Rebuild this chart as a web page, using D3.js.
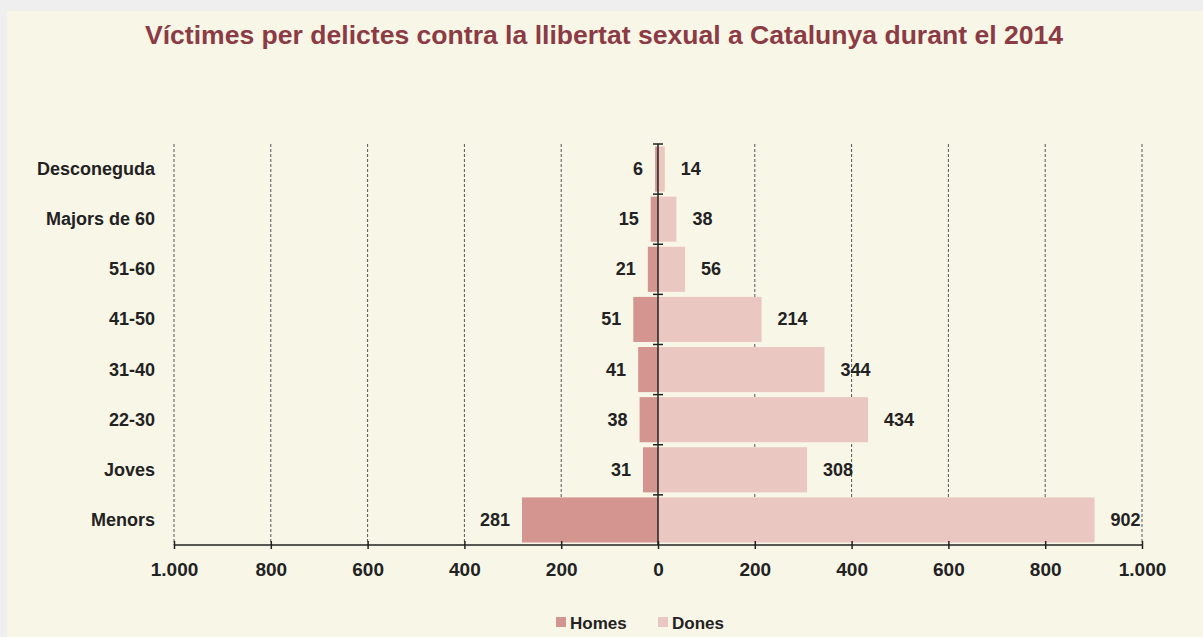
<!DOCTYPE html>
<html>
<head>
<meta charset="utf-8">
<script src="https://cdn.jsdelivr.net/npm/d3@7"></script>
<style>
  body { margin: 0; background: #efefef; }
  text { font-family: "Liberation Sans", Arial, sans-serif; font-weight: bold; }
</style>
</head>
<body>
<script>
// age groups, top to bottom
var categories = ["Desconeguda", "Majors de 60", "51-60", "41-50", "31-40", "22-30", "Joves", "Menors"];
var homes = [6, 15, 21, 51, 41, 38, 31, 281];
var dones = [14, 38, 56, 214, 344, 434, 308, 902];
var ticks = [-1000, -800, -600, -400, -200, 0, 200, 400, 600, 800, 1000];

var W = 1203, H = 637;
var svg = d3.select("body").append("svg")
  .attr("width", W)
  .attr("height", H);

// cream paper
svg.append("rect")
  .attr("x", 7).attr("y", 11)
  .attr("width", W - 7).attr("height", H - 11)
  .attr("fill", "#f8f6e7");

svg.append("text")
  .text("Víctimes per delictes contra la llibertat sexual a Catalunya durant el 2014")
  .attr("x", 145).attr("y", 44)
  .attr("textLength", 918)
  .attr("lengthAdjust", "spacingAndGlyphs")
  .attr("font-size", 26)
  .attr("fill", "#8c3b45");

var xscale = d3.scaleLinear()
  .domain([-1000, 1000])
  .range([174, 1142]);

var yscale = d3.scaleBand()
  .domain(categories)
  .range([144, 545])
  .paddingInner(0.1)
  .paddingOuter(0.05);

// dashed gridlines
svg.append("g")
  .selectAll("line")
  .data(ticks.filter(d => d != 0))
  .enter()
  .append("line")
  .attr("x1", d => xscale(d)).attr("x2", d => xscale(d))
  .attr("y1", 144).attr("y2", 545)
  .attr("stroke", "#555")
  .attr("stroke-width", 1)
  .attr("stroke-dasharray", "3,2");

// bars
svg.append("g").selectAll("rect")
  .data(categories)
  .enter()
  .append("rect")
  .attr("x", (d, i) => xscale(-homes[i]))
  .attr("width", (d, i) => xscale(0) - xscale(-homes[i]))
  .attr("y", d => yscale(d))
  .attr("height", yscale.bandwidth())
  .attr("fill", "#d49590");

svg.append("g").selectAll("rect")
  .data(categories)
  .enter()
  .append("rect")
  .attr("x", xscale(0))
  .attr("width", (d, i) => xscale(dones[i]) - xscale(0))
  .attr("y", d => yscale(d))
  .attr("height", yscale.bandwidth())
  .attr("fill", "#eac7c1");

// value labels
svg.append("g").selectAll("text")
  .data(categories)
  .enter()
  .append("text")
  .text((d, i) => homes[i])
  .attr("x", (d, i) => xscale(-homes[i]) - 12)
  .attr("y", d => yscale(d) + yscale.bandwidth() / 2 + 6)
  .attr("text-anchor", "end")
  .attr("font-size", 18)
  .attr("fill", "#222");

svg.append("g").selectAll("text")
  .data(categories)
  .enter()
  .append("text")
  .text((d, i) => dones[i])
  .attr("x", (d, i) => xscale(dones[i]) + 16)
  .attr("y", d => yscale(d) + yscale.bandwidth() / 2 + 6)
  .attr("text-anchor", "start")
  .attr("font-size", 18)
  .attr("fill", "#222");

// bottom axis
var fmt = d => d3.format(",")(Math.abs(d)).replace(",", ".");
var xaxis = svg.append("g")
  .attr("transform", "translate(0,545)")
  .call(d3.axisBottom(xscale).tickValues(ticks).tickFormat(fmt).tickSize(6).tickPadding(12));
xaxis.select(".domain").attr("stroke", "#222").attr("stroke-width", 1.5).attr("d", "M174,0H1142");
xaxis.selectAll(".tick line").attr("stroke", "#222").attr("stroke-width", 1.5).attr("y1", -4).attr("y2", 4);
xaxis.selectAll("text")
  .attr("font-size", 19)
  .attr("font-family", "Liberation Sans, Arial, sans-serif")
  .attr("font-weight", "bold")
  .attr("fill", "#222");

// center axis with category labels
var yaxis = svg.append("g")
  .attr("transform", "translate(" + xscale(0) + ",0)")
  .call(d3.axisLeft(yscale).tickSize(0).tickFormat(""));
yaxis.select(".domain").attr("stroke", "#222").attr("stroke-width", 1.5).attr("d", "M0,144V545");

var bounds = d3.range(categories.length).map(i => 144 + i * 401 / categories.length);
yaxis.selectAll(".bound")
  .data(bounds)
  .enter()
  .append("line")
  .attr("x1", -5).attr("x2", 5)
  .attr("y1", d => d).attr("y2", d => d)
  .attr("stroke", "#222")
  .attr("stroke-width", 1.5);

svg.append("g").selectAll("text")
  .data(categories)
  .enter()
  .append("text")
  .text(d => d)
  .attr("x", 155)
  .attr("y", d => yscale(d) + yscale.bandwidth() / 2 + 6)
  .attr("text-anchor", "end")
  .attr("font-size", 18)
  .attr("fill", "#222");

// legend
var legend = [["Homes", "#d49590"], ["Dones", "#eac7c1"]];
var lg = svg.append("g").selectAll("g")
  .data(legend)
  .enter()
  .append("g")
  .attr("transform", (d, i) => "translate(" + (556 + i * 102) + ",617)");
lg.append("rect")
  .attr("width", 10).attr("height", 10)
  .attr("fill", d => d[1]);
lg.append("text")
  .text(d => d[0])
  .attr("x", 14).attr("y", 12)
  .attr("font-size", 17)
  .attr("fill", "#222");
</script>
</body>
</html>
